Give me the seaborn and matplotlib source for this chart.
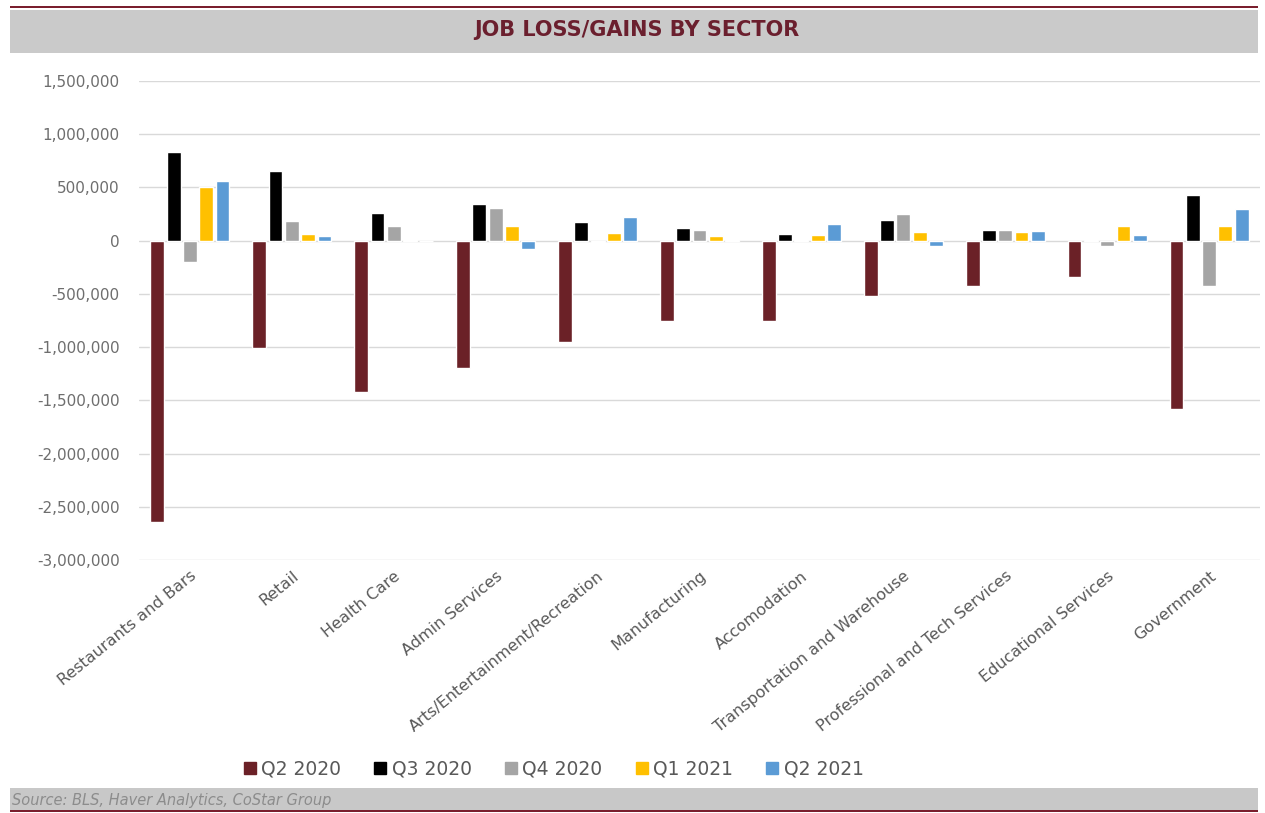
import numpy as np
import pandas as pd
import matplotlib
matplotlib.use("Agg")
import matplotlib.pyplot as plt
import seaborn as sns
from matplotlib.patches import Rectangle
from matplotlib.ticker import FuncFormatter, MultipleLocator

sectors = ["Restaurants and Bars", "Retail", "Health Care", "Admin Services",
           "Arts/Entertainment/Recreation", "Manufacturing", "Accomodation",
           "Transportation and Warehouse", "Professional and Tech Services",
           "Educational Services", "Government"]
periods = ["Q2 2020", "Q3 2020", "Q4 2020", "Q1 2021", "Q2 2021"]

q2_2020 = [-2640000, -1009000, -1425000, -1194000, -950000, -759000, -759000, -519000, -422000, -344000, -1584000]
q3_2020 = [831000, 653000, 256000, 341000, 175000, 119000, 66000, 191000, 103000, 9000, 431000]
q4_2020 = [-197000, 181000, 141000, 303000, -10000, 97000, 5000, 253000, 100000, -53000, -422000]
q1_2021 = [500000, 62000, 5000, 141000, 72000, 44000, 50000, 84000, 84000, 134000, 141000]
q2_2021 = [560000, 44000, -4000, -75000, 222000, 9000, 159000, -53000, 94000, 56000, 297000]

colors = ["#6B2127", "#000000", "#A5A5A5", "#FFC000", "#5B9BD5"]

series = [q2_2020, q3_2020, q4_2020, q1_2021, q2_2021]
rows = []
for p, vals in zip(periods, series):
    for s, v in zip(sectors, vals):
        rows.append({"Sector": s, "Period": p, "Value": v})
df = pd.DataFrame(rows)

sns.set_theme(style="white")
plt.rcParams['font.family'] = ['DejaVu Sans']

fig = plt.figure(figsize=(12.65, 8.13), dpi=100)
ax = fig.add_axes([139/1265, 1 - 560/813, (1260-139)/1265, (560-81)/813])

sns.barplot(data=df, x="Sector", y="Value", hue="Period", order=sectors,
            hue_order=periods, palette=colors, width=0.8, gap=0.15,
            ax=ax, legend=False, saturation=1)

ax.set_ylim(-3000000, 1500000)
ax.yaxis.set_major_locator(MultipleLocator(500000))
ax.yaxis.set_major_formatter(FuncFormatter(lambda v, p: f"{int(v):,}"))
ax.grid(axis="y", color="#D9D9D9", linewidth=1)
ax.set_axisbelow(True)
for sp in ax.spines.values():
    sp.set_visible(False)
ax.set_xlabel("")
ax.set_ylabel("")
ax.tick_params(axis="y", labelsize=11, colors="#6E6E6E", length=0, pad=14)
ax.tick_params(axis="x", labelsize=11.5, colors="#595959", length=0, pad=6)
plt.setp(ax.get_xticklabels(), rotation=39, ha="right", rotation_mode="anchor")

# title banner
fig.patches.append(Rectangle((10/1265, 1 - 53/813), 1248/1265, 43/813,
                             transform=fig.transFigure, facecolor="#CACACA",
                             edgecolor="none", zorder=0))
fig.patches.append(Rectangle((10/1265, 1 - 8/813), 1248/1265, 2/813,
                             transform=fig.transFigure, facecolor="#7A1F2E",
                             edgecolor="none", zorder=0))
fig.text(637/1265, 1 - 30/813, "JOB LOSS/GAINS BY SECTOR", ha="center", va="center",
         fontsize=15, fontweight="bold", color="#6B1F2E")

# footer
fig.patches.append(Rectangle((10/1265, 1 - 810/813), 1248/1265, 22/813,
                             transform=fig.transFigure, facecolor="#C8C8C8",
                             edgecolor="none", zorder=0))
fig.patches.append(Rectangle((10/1265, 1 - 812/813), 1248/1265, 2/813,
                             transform=fig.transFigure, facecolor="#7A1F2E",
                             edgecolor="none", zorder=0))
fig.text(12/1265, 1 - 800/813, "Source: BLS, Haver Analytics, CoStar Group",
         ha="left", va="center", fontsize=10.5, style="italic", color="#8C8C8C")

handles = [plt.Line2D([0], [0], marker="s", linestyle="", markersize=8,
                      markerfacecolor=c, markeredgecolor=c) for c in colors]
fig.legend(handles, periods, loc="center", bbox_to_anchor=(551/1265, 1 - 769/813),
           ncol=5, frameon=False, fontsize=13.5, handletextpad=0.0, columnspacing=1.5,
           handlelength=1.2, labelcolor="#595959")

fig.savefig("out.png", dpi=100)
